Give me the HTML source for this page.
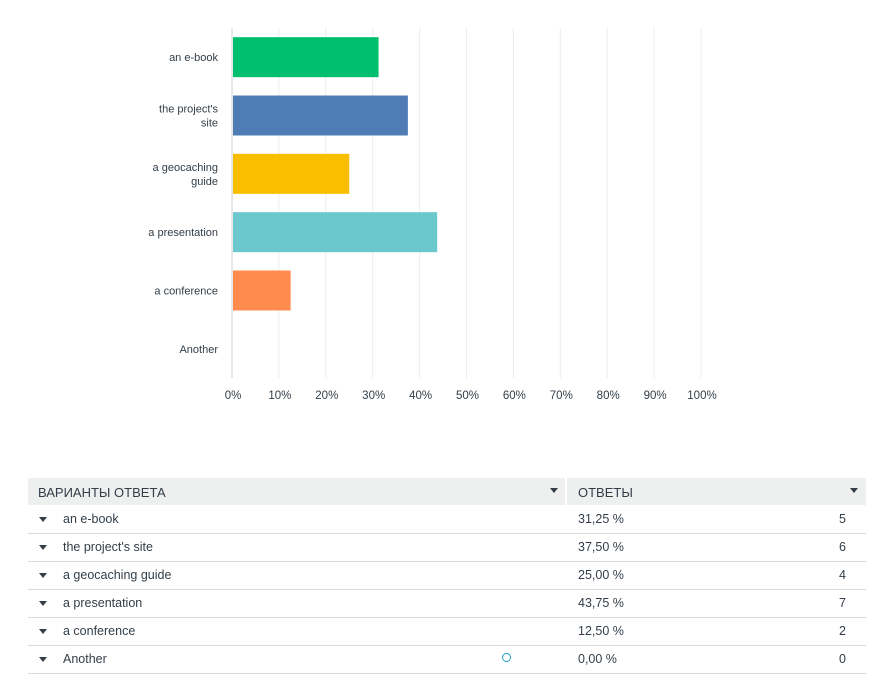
<!DOCTYPE html>
<html><head><meta charset="utf-8">
<style>
body{margin:0;width:891px;height:657px;overflow:hidden;background:#fff;font-family:"Liberation Sans",sans-serif;position:relative}
#tbl{position:absolute;left:28px;top:478px;width:838px}
.row{position:absolute;left:0;width:838px;height:28px;border-bottom:1px solid #d9d9d9;font-size:12.5px;color:#333e48}
.row span{position:absolute;top:7px}
.tri{position:absolute;width:0;height:0;border-left:4px solid transparent;border-right:4px solid transparent;border-top:5px solid #333e48}
</style></head><body>
<svg id="chart" width="891" height="420" style="position:absolute;left:0;top:0"></svg>
<div id="tbl">
 <div style="position:absolute;left:0;top:0;width:838px;height:27px;background:#eeefef;font-size:13px;color:#333e48">
  <span style="position:absolute;left:10px;top:7px">ВАРИАНТЫ ОТВЕТА</span>
  <div class="tri" style="left:522px;top:10px"></div>
  <div style="position:absolute;left:537px;top:0;width:2px;height:27px;background:#fff"></div>
  <span style="position:absolute;left:550px;top:7px">ОТВЕТЫ</span>
  <div class="tri" style="left:822px;top:10px"></div>
 </div>
</div>
<script>
const categories=["an e-book","the project's site","a geocaching guide","a presentation","a conference","Another"];
const catLines=[["an e-book"],["the project's","site"],["a geocaching","guide"],["a presentation"],["a conference"],["Another"]];
const values=[31.25,37.5,25,43.75,12.5,0];
const counts=[5,6,4,7,2,0];
const pctLabels=["31,25 %","37,50 %","25,00 %","43,75 %","12,50 %","0,00 %"];
const ticks=[0,10,20,30,40,50,60,70,80,90,100];
const colors=["#00bf6f","#507cb6","#f9be00","#6bc8cd","#ff8b4f","#999"];
const NS="http://www.w3.org/2000/svg";
const svg=document.getElementById('chart');
const x0=232,x1=701,yTop=28,yBottom=378;
const xs=v=>x0+(x1-x0)*v/100;
const band=(yBottom-yTop)/categories.length;
const ys=i=>yTop+band*i+band/2;
function mk(t,a){const e=document.createElementNS(NS,t);for(const k in a)e.setAttribute(k,a[k]);svg.appendChild(e);return e;}
ticks.forEach(t=>{
 const g=mk('line',{x1:xs(t),x2:xs(t),y1:yTop,y2:yBottom,stroke:t===0?'#ccc':'#ececec','stroke-width':1});
 
 
 const l=mk('text',{x:xs(t)+1,y:399,'text-anchor':'middle','font-size':'11.5','fill':'#333e48','font-family':'Liberation Sans'});
 l.textContent=t+'%';
 
 
});
values.forEach((v,i)=>{
 const r=mk('rect',{x:x0+1,y:ys(i)-20,width:Math.max(0,xs(v)-x0-1),height:40,fill:colors[i]});
 
 
 const lines=catLines[i];
 lines.forEach((s,j)=>{
  const t=mk('text',{x:218,y:ys(i)+4+(j-(lines.length-1)/2)*14,'text-anchor':'end','font-size':'11','fill':'#333e48','font-family':'Liberation Sans'});
  t.textContent=s;
  
  
 });
});
const tbl=document.getElementById('tbl');
categories.forEach((c,i)=>{
 const r=document.createElement('div');
 r.className='row';
 
 
 r.style.top=(27+i*28)+'px';
 r.innerHTML='<div class="tri" style="left:11px;top:12px"></div><span style="left:35px">'+c+'</span><span style="left:550px">'+pctLabels[i]+'</span><span style="right:20px">'+counts[i]+'</span>';
 if(i===5){const o=document.createElement('div');o.style.cssText='position:absolute;left:474px;top:8px;width:7px;height:7px;border:1.5px solid #1f9ec1;border-radius:50%';r.appendChild(o);}
 tbl.appendChild(r);
});
</script>
</body></html>
